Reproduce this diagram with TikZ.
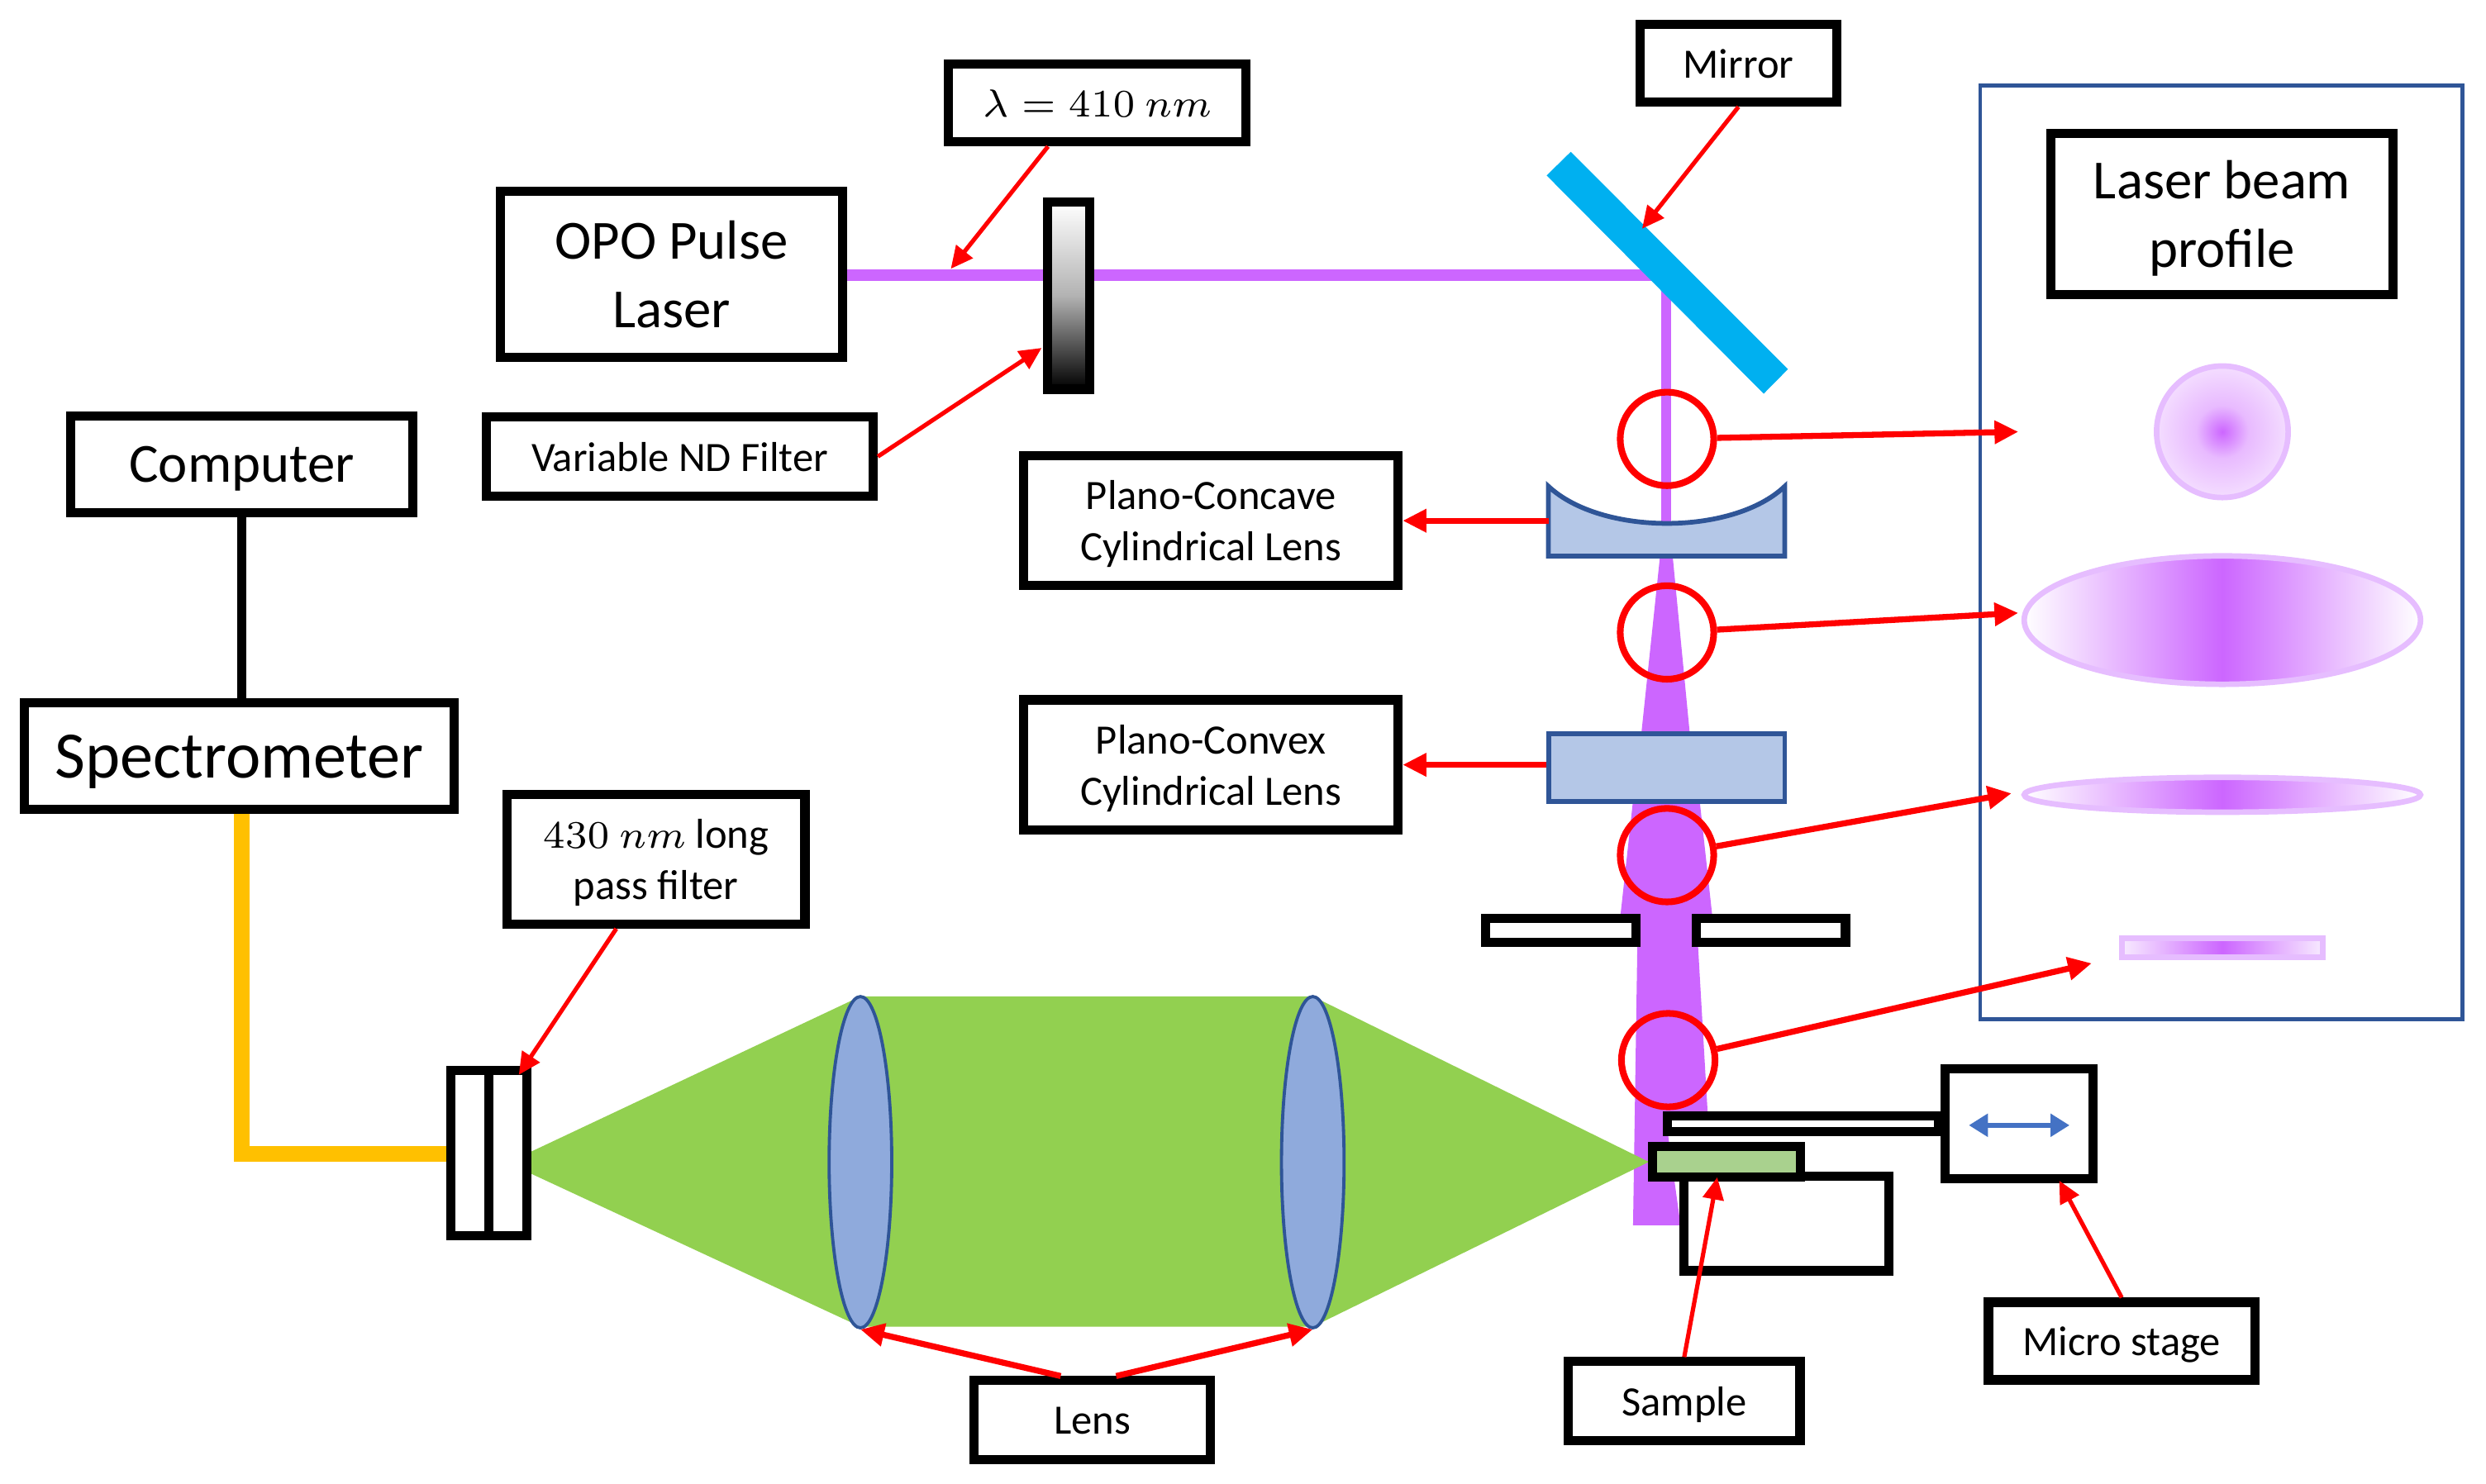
\documentclass[tikz,border=0pt]{standalone}
\usepackage[no-math]{fontspec}
\setmainfont{Carlito}
\usetikzlibrary{arrows.meta,shapes.geometric}

\definecolor{beamviolet}{HTML}{CC66FF}
\definecolor{spotedge}{HTML}{E6BDFF}
\definecolor{mirrorblue}{HTML}{00B0F0}
\definecolor{fibreyellow}{HTML}{FFC000}
\definecolor{signalgreen}{HTML}{92D050}
\definecolor{samplegreen}{HTML}{A9D18E}
\definecolor{cyllens}{HTML}{B4C7E7}
\definecolor{roundlens}{HTML}{8FAADC}
\definecolor{darkblue}{HTML}{2F5597}
\definecolor{stageblue}{HTML}{4472C4}

\pgfdeclareradialshading{spotround}{\pgfpointorigin}{%
  color(0bp)=(beamviolet); color(10bp)=(beamviolet!45!white); color(25bp)=(beamviolet!22!white); color(50bp)=(beamviolet!22!white)}

\tikzset{
  box/.style={draw, line width=0.58mm, fill=white, inner sep=0pt, align=center, text depth=0pt},
  tiny label/.style={box, font=\fontsize{7.5}{9.2}\selectfont},
  big label/.style={box, font=\fontsize{9.9}{12.3}\selectfont},
  pointer/.style={draw=red, line width=0.27mm, -{Triangle[length=1.4mm, width=1.3mm]}},
  fat pointer/.style={draw=red, line width=0.38mm, -{Triangle[length=1.5mm, width=1.4mm]}},
  probe/.style={circle, draw=red, line width=0.42mm, minimum size=5.9mm, inner sep=0pt},
  cyl/.style={draw=darkblue, line width=0.3mm, fill=cyllens},
  spot/.style={draw=spotedge, line width=0.35mm},
  plate/.style={draw, line width=0.58mm, fill=white},
}

\begin{document}
\begin{tikzpicture}[y=-1cm]
  \useasboundingbox (0,0) rectangle (15.68,9.36);

  % Violet beam
  \fill[beamviolet] (5.33,1.70) rectangle (10.51,1.77);
  \fill[beamviolet] (10.48,1.73) rectangle (10.54,3.3);
  \fill[beamviolet] (10.47,3.51) -- (10.55,3.51) -- (10.66,4.65) -- (10.35,4.65) -- cycle;
  \fill[beamviolet] (10.30,5.05) -- (10.72,5.05) -- (10.80,5.78) -- (10.22,5.78) -- cycle;
  \fill[beamviolet] (10.33,5.78) -- (10.68,5.78) -- (10.71,5.97) -- (10.77,7.01)
    -- (10.50,7.01) -- (10.60,7.73) -- (10.30,7.73) -- cycle;

  % Green light cone and the two lenses
  \fill[signalgreen] (3.34,7.27) -- (5.427,6.286) -- (8.28,6.286) -- (10.4,7.33)
    -- (8.28,8.37) -- (5.427,8.37) -- (3.34,7.40) -- cycle;
  \foreach \x/\n in {5.427/lensa,8.28/lensb} {
    \node (\n) at (\x,7.332) [ellipse, draw=darkblue, line width=0.2mm, fill=roundlens, inner sep=0pt,
      minimum width=3.95mm, minimum height=20.9mm] {};
  }

  % Mirror
  \fill[mirrorblue] (9.907,0.958) -- (9.755,1.107) -- (11.124,2.484) -- (11.277,2.329) -- cycle;

  % Cylindrical lenses
  \draw[cyl] (9.766,3.068) .. controls (10.1,3.38) and (10.93,3.38) .. (11.257,3.068)
    -- (11.257,3.508) -- (9.766,3.508) -- cycle;
  \node (convex) at (10.512,4.842) [cyl, inner sep=0pt, minimum width=14.9mm, minimum height=4.25mm] {};

  % Aperture plates
  \node (slitl) at (9.845,5.87) [plate, inner sep=0pt, minimum width=9.5mm, minimum height=1.5mm] {};
  \node (slitr) at (11.17,5.87) [plate, inner sep=0pt, minimum width=9.4mm, minimum height=1.5mm] {};

  % Stage, rod and sample
  \node (block) at (11.267,7.72) [plate, inner sep=0pt, minimum width=12.9mm, minimum height=5.95mm] {};
  \node (rod) at (11.37,7.09) [plate, inner sep=0pt, minimum width=17.1mm, minimum height=1mm] {};
  \node (stage) at (12.735,7.09) [plate, inner sep=0pt, minimum width=9.3mm, minimum height=6.95mm] {};
  \node (sample) at (10.89,7.329) [plate, fill=samplegreen, inner sep=0pt, minimum width=9.3mm, minimum height=1.9mm] {};
  \draw[stageblue, line width=0.3mm, {Triangle[length=1.2mm, width=1.4mm]}-{Triangle[length=1.2mm, width=1.4mm]}]
    (12.418,7.099) -- (13.053,7.099);

  % Variable filter and long pass filter
  \node (ndfilter) at (6.74,1.865) [draw, line width=0.58mm, inner sep=0pt, minimum width=2.65mm, minimum height=11.8mm,
    top color=white, bottom color=black, middle color=black!30] {};
  \coordinate (fibreend) at (2.9,7.279);
  \node (lpfilter) at (3.085,7.275) [plate, inner sep=0pt, minimum width=4.8mm, minimum height=10.4mm] {};
  \draw[line width=0.58mm] (lpfilter.north) -- (lpfilter.south);

  % Boxes with text
  \node (laser) at (4.235,1.73) [big label, minimum width=21.6mm, minimum height=10.5mm] {OPO Pulse\\Laser};
  \node (wave) at (6.92,0.65) [tiny label, minimum width=18.8mm, minimum height=4.9mm] {$\lambda=410\ nm$};
  \node (mirror) at (10.965,0.4) [tiny label, minimum width=12.4mm, minimum height=4.9mm] {Mirror};
  \node (ndtext) at (4.288,2.88) [tiny label, minimum width=24.4mm, minimum height=5mm] {Variable ND Filter};
  \node (computer) at (1.525,2.93) [big label, minimum width=21.6mm, minimum height=6.1mm] {Computer};
  \node (spectro) at (1.51,4.77) [big label, font=\fontsize{11.9}{13}\selectfont, minimum width=27.1mm, minimum height=6.7mm] {Spectrometer};
  \node (concave) at (7.638,3.285) [tiny label, minimum width=23.6mm, minimum height=8.2mm] {Plano-Concave\\Cylindrical Lens};
  \node (convextext) at (7.638,4.825) [tiny label, minimum width=23.6mm, minimum height=8.2mm] {Plano-Convex\\Cylindrical Lens};
  \node (lptext) at (4.137,5.42) [tiny label, minimum width=18.8mm, minimum height=8.2mm] {$430\ nm$ long\\pass filter};
  \node (lens) at (6.89,8.96) [tiny label, minimum width=14.9mm, minimum height=5mm] {Lens};
  \node (sampletext) at (10.623,8.84) [tiny label, minimum width=14.6mm, minimum height=5mm] {Sample};
  \node (stagetext) at (13.382,8.46) [tiny label, minimum width=16.8mm, minimum height=4.9mm] {Micro stage};

  % Profile panel
  \node (panel) at (14.01,3.485) [draw=darkblue, line width=0.25mm, inner sep=0pt, minimum width=30.4mm, minimum height=58.9mm] {};
  \node (profile) at (14.015,1.35) [big label, minimum width=21.6mm, minimum height=10.2mm] {Laser beam\\profile};
  \node (spota) at (14.017,2.724) [spot, ellipse, shading=spotround, inner sep=0pt, minimum width=8.3mm, minimum height=8.3mm] {};
  \node (spotb) at (14.017,3.912) [spot, ellipse, inner sep=0pt, minimum width=25mm, minimum height=8.1mm,
    left color=white, right color=white, middle color=beamviolet] {};
  \node (spotc) at (14.017,5.014) [spot, ellipse, inner sep=0pt, minimum width=25mm, minimum height=2.2mm,
    left color=white, right color=white, middle color=beamviolet] {};
  \node (spotd) at (14.017,5.978) [spot, inner sep=0pt, minimum width=12.7mm, minimum height=1.2mm,
    left color=spotedge!30!white, right color=spotedge!30!white, middle color=beamviolet] {};

  % Cables
  \draw[line width=0.55mm] (computer.south) -- (computer.south |- spectro.north);
  \coordinate (fibrecorner) at (computer.south |- fibreend);
  \draw[fibreyellow, line width=1mm] (computer.south |- spectro.south) -- (fibrecorner) -- (lpfilter.west |- fibreend);

  % Probe circles
  \node (probea) at (10.514,2.769) [probe] {};
  \node (probeb) at (10.514,3.99) [probe] {};
  \node (probec) at (10.514,5.395) [probe] {};
  \node (probed) at (10.522,6.688) [probe] {};

  % Free ends of the pointers
  \coordinate (hita) at (12.73,2.724);
  \coordinate (hitb) at (12.73,3.867);
  \coordinate (hitc) at (12.687,5.005);
  \coordinate (hitd) at (13.193,6.077);
  \coordinate (hitwave) at (5.997,1.696);
  \coordinate (hitnd) at (6.57,2.195);
  \coordinate (hitmirror) at (10.357,1.443);
  \coordinate (hitlp) at (3.272,6.781);
  \coordinate (hitsample) at (10.831,7.427);
  \coordinate (hitstage) at (12.988,7.448);
  \coordinate (concaveedge) at (9.766,3.285);

  % Pointers
  \draw[fat pointer] (probea) -- (hita);
  \draw[fat pointer] (probeb) -- (hitb);
  \draw[fat pointer] (probec) -- (hitc);
  \draw[fat pointer] (probed) -- (hitd);
  \draw[pointer] ([xshift=-0.31cm]wave.south) -- (hitwave);
  \draw[pointer] (ndtext.east) -- (hitnd);
  \draw[pointer] (mirror.south) -- (hitmirror);
  \draw[pointer] ([xshift=-0.25cm]lptext.south) -- (hitlp);
  \draw[fat pointer] (concaveedge) -- (concave.east);
  \draw[fat pointer] (convex.west |- convextext.east) -- (convextext.east);
  \draw[fat pointer] ([xshift=-0.2cm]lens.north) -- (lensa.south);
  \draw[fat pointer] ([xshift=0.15cm]lens.north) -- (lensb.south);
  \draw[pointer] (sampletext.north) -- (hitsample);
  \draw[pointer] (stagetext.north) -- (hitstage);
\end{tikzpicture}
\end{document}
